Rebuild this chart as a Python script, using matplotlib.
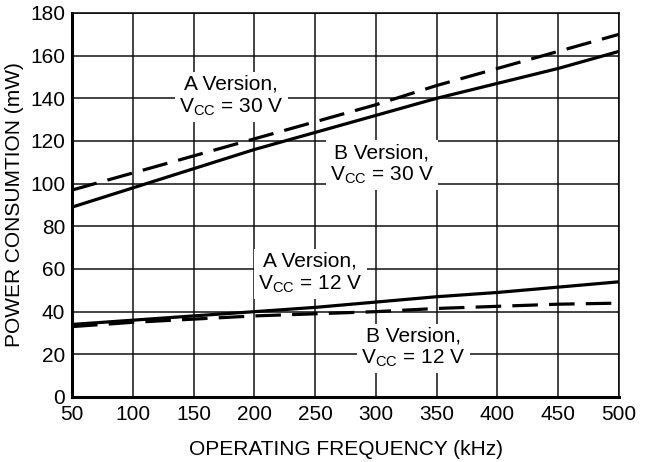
import matplotlib
matplotlib.use('Agg')
import matplotlib.pyplot as plt

plt.rcParams['font.family'] = ['Liberation Sans', 'DejaVu Sans']
plt.rcParams['mathtext.fontset'] = 'custom'
plt.rcParams['mathtext.rm'] = 'Liberation Sans'

# data
freq = [50, 100, 150, 200, 250, 300, 350, 400, 450, 500]
a_30v = [97, 105, 113, 121, 129, 137, 146, 154, 162, 170]
b_30v = [89, 98, 107, 116, 124, 132, 140, 147, 154, 162]
a_12v = [34, 36, 38, 40, 42, 44.5, 47, 49, 51.5, 54]
b_12v = [33, 35, 36.5, 38, 39, 40, 41.5, 42.5, 43.5, 44]

labels = [
    ('A Version,\n$\\mathregular{V_{CC}}$ = 30 V', 181, 141),
    ('B Version,\n$\\mathregular{V_{CC}}$ = 30 V', 305, 109),
    ('A Version,\n$\\mathregular{V_{CC}}$ = 12 V', 246, 58),
    ('B Version,\n$\\mathregular{V_{CC}}$ = 12 V', 331, 23),
]

fs = 15

fig = plt.figure(figsize=(6.5, 4.62), dpi=100)
ax = fig.add_axes([0.1108, 0.1407, 0.8415, 0.8312])

ax.plot(freq, a_30v, color='black', lw=2.3, dashes=(8, 3.5), zorder=4)
ax.plot(freq, b_30v, color='black', lw=2.3, zorder=4)
ax.plot(freq, a_12v, color='black', lw=2.3, zorder=4)
ax.plot(freq, b_12v, color='black', lw=2.3, dashes=(8, 3.5), zorder=4)

for txt, x, y in labels:
    ax.text(x, y, txt, ha='center', va='center', fontsize=fs, linespacing=1.15,
            zorder=3, bbox=dict(fc='white', ec='none', pad=3))

ax.set_xlim(50, 500)
ax.set_ylim(0, 180)
ax.set_xticks(range(50, 501, 50))
ax.set_yticks(range(0, 181, 20))
ax.set_axisbelow(True)
ax.grid(True, color='#111111', lw=1.1)
ax.tick_params(length=0, labelsize=fs)
ax.tick_params(axis='x', pad=6)
ax.tick_params(axis='y', pad=5)
ax.spines['left'].set_linewidth(2.2)
ax.spines['bottom'].set_linewidth(2.2)
ax.spines['top'].set_linewidth(1.1)
ax.spines['right'].set_linewidth(1.1)

ax.set_xlabel('OPERATING FREQUENCY (kHz)', fontsize=fs, labelpad=11)
ax.set_ylabel('POWER CONSUMTION (mW)', fontsize=fs, labelpad=4)

fig.savefig('out.png', dpi=100)
